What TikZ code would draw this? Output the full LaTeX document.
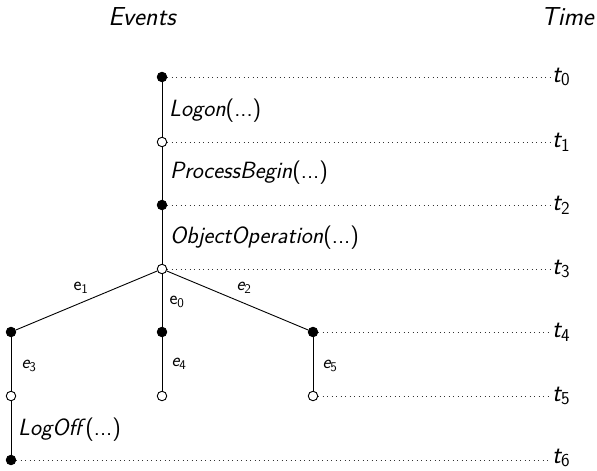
\documentclass[tikz,border=0pt]{standalone}
\usepackage{fontspec}
\newcommand\sbx[1]{\textsubscript{\upshape #1}}
\begin{document}
\begin{tikzpicture}[x=1pt,y=-1pt,
  every node/.style={font=\sffamily},
  full/.style={circle,fill=black,draw=black,line width=0.9pt,inner sep=0pt,minimum size=9.5pt},
  hollow/.style={circle,fill=white,draw=black,line width=0.9pt,inner sep=0pt,minimum size=9.5pt},
  edge/.style={line width=0.9pt},
  guide/.style={line width=0.9pt,dash pattern=on 0.9pt off 3.6pt,black!80},
  tlab/.style={anchor=west,inner sep=2pt,font=\sffamily\itshape\fontsize{26}{30}\selectfont},
  ev/.style={anchor=west,inner sep=0pt,font=\sffamily\fontsize{23.5}{27}\selectfont},
  elab/.style={inner sep=0pt,font=\sffamily\fontsize{19}{22}\selectfont},
  head/.style={font=\sffamily\itshape\fontsize{26}{30}\selectfont}]
\useasboundingbox (0,0) rectangle (597,471);

% column headings
\node[head] (hev) at (142,17) {Events};
\node[head,anchor=east,inner sep=0pt] (htm) at (594,17) {Time};

% time markers
\node[tlab] (t0) at (550,77) {t\sbx{0}};
\node[tlab] (t1) at (550,142) {t\sbx{1}};
\node[tlab] (t2) at (550,205) {t\sbx{2}};
\node[tlab] (t3) at (550,269) {t\sbx{3}};
\node[tlab] (t4) at (550,332) {t\sbx{4}};
\node[tlab] (t5) at (550,396) {t\sbx{5}};
\node[tlab] (t6) at (550,458) {t\sbx{6}};

% event states
\node[full]   (n0) at (162,77) {};
\node[hollow] (n1) at (162,142) {};
\node[full]   (n2) at (162,205) {};
\node[hollow] (n3) at (162,269) {};
\node[full]   (l4) at (11,332) {};
\node[full]   (m4) at (162,332) {};
\node[full]   (r4) at (313,332) {};
\node[hollow] (l5) at (11,396) {};
\node[hollow] (m5) at (162,396) {};
\node[hollow] (r5) at (313,396) {};
\node[full]   (l6) at (11,460) {};

% dotted guides to the time axis
\draw[guide] (n0.east) -- (t0.west |- n0);
\draw[guide] (n1.east) -- (t1.west |- n1);
\draw[guide] (n2.east) -- (t2.west |- n2);
\draw[guide] (n3.east) -- (t3.west |- n3);
\draw[guide] (r4.east) -- (t4.west |- r4);
\draw[guide] (r5.east) -- (t5.west |- r5);
\draw[guide] (l6.east) -- (t6.west |- l6);

% transitions
\draw[edge] (n0) -- (n1);
\draw[edge] (n1) -- (n2);
\draw[edge] (n2) -- (n3);
\draw[edge] (n3) -- (l4);
\draw[edge] (n3) -- (m4);
\draw[edge] (n3) -- (r4);
\draw[edge] (l4) -- (l5);
\draw[edge] (m4) -- (m5);
\draw[edge] (r4) -- (r5);
\draw[edge] (l5) -- (l6);

% transition labels
\node[ev] (lb1) at (169,111) {\textit{Logon}(...)};
\node[ev] (lb2) at (170,173) {\textit{ProcessBegin}(...)};
\node[ev] (lb3) at (170,238) {\textit{ObjectOperation}(...)};
\node[ev] (lb4) at (18,430) {\textit{LogOff\,}(...)};
\node[elab] (e1) at (81,288) {e\sbx{1}};
\node[elab] (e0) at (177,302) {e\sbx{0}};
\node[elab] (e2) at (244,288) {\itshape e\sbx{2}};
\node[elab] (e3) at (29,366) {\itshape e\sbx{3}};
\node[elab] (e4) at (179,364) {\itshape e\sbx{4}};
\node[elab] (e5) at (330,366) {\itshape e\sbx{5}};
\end{tikzpicture}
\end{document}
